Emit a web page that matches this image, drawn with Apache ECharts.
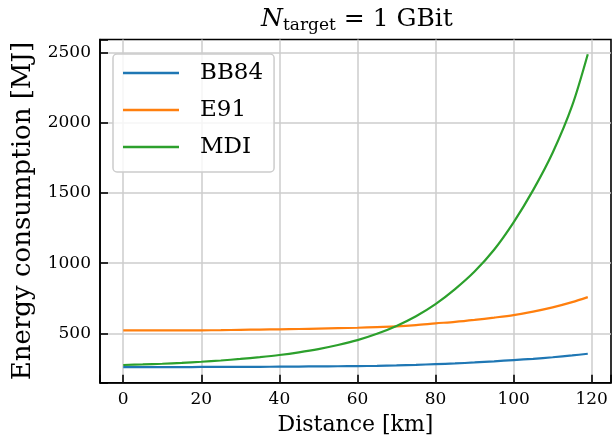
<!DOCTYPE html>
<html lang="en">
<head>
    <meta charset="utf-8"/>
    <title>Energy consumption vs distance</title>
    <script src="https://cdn.jsdelivr.net/npm/echarts@6/dist/echarts.min.js"></script>
</head>
<body style="margin: 0;">
<div id="chart" style="width: 614px;height:445px;"></div>

<script type="text/javascript">
    // distance in km (MJ)
    const distance = [0, 5, 10, 15, 20, 25, 30, 35, 40, 45, 50, 55, 60,
        65, 70, 75, 80, 85, 90, 95, 100, 105, 110, 115, 119];
    const bb84 = [260, 260, 260, 260, 261, 261, 262, 262, 263, 264, 265, 266, 267,
        269, 272, 276, 281, 286, 293, 301, 310, 319, 330, 343, 355];
    const e91 = [521, 521, 521, 522, 522, 523, 525, 527, 529, 531, 534, 537, 540,
        545, 550, 559, 571, 582, 596, 612, 630, 655, 685, 722, 758];
    const mdi = [275, 279, 284, 290, 298, 307, 318, 331, 346, 365, 388, 417, 452,
        497, 553, 622, 708, 815, 940, 1095, 1290, 1519, 1785, 2120, 2486];
    const xTicks = [0, 20, 40, 60, 80, 100, 120];
    const yTicks = [500, 1000, 1500, 2000, 2500];

    const serif = 'DejaVu Serif';

    function pairs(ys) {
        return distance.map(function (d, i) {
            return [d, ys[i]];
        });
    }

    function makeLine(name, color, ys) {
        return {
            name: name,
            type: 'line',
            data: pairs(ys),
            symbol: 'none',
            smooth: 0.3,
            color: color,
            lineStyle: {width: 2.2, color: color}
        };
    }

    let chart = echarts.init(document.getElementById('chart'));
    chart.setOption({
        animation: false,
        backgroundColor: '#fff',
        title: {
            text: '{n|N}{s|target}{r| = 1 GBit}',
            left: 357,
            top: 4,
            padding: 0,
            textAlign: 'center',
            textStyle: {
                fontWeight: 'normal',
                rich: {
                    n: {fontFamily: serif, fontStyle: 'italic', fontWeight: 'normal', fontSize: 25, lineHeight: 30, color: '#000'},
                    s: {fontFamily: serif, fontWeight: 'normal', fontSize: 17, lineHeight: 17, verticalAlign: 'bottom', color: '#000'},
                    r: {fontFamily: serif, fontWeight: 'normal', fontSize: 25, lineHeight: 30, color: '#000'}
                }
            }
        },
        grid: {
            left: 100,
            top: 39.5,
            right: -1,
            bottom: 62.3,
            show: true,
            borderColor: '#000',
            borderWidth: 1.6,
            containLabel: false
        },
        legend: {
            orient: 'vertical',
            left: 113,
            top: 54,
            padding: [6, 11, 12, 10],
            icon: 'rect',
            itemWidth: 56,
            itemHeight: 2.5,
            itemGap: 11,
            backgroundColor: 'rgba(255,255,255,0.8)',
            borderColor: '#cccccc',
            borderWidth: 1.5,
            borderRadius: 4,
            textStyle: {
                fontFamily: serif,
                fontSize: 23,
                lineHeight: 26,
                color: '#000',
                padding: [0, 0, 0, 16]
            },
            data: ['BB84', 'E91', 'MDI']
        },
        xAxis: {
            type: 'value',
            min: -5.95,
            max: 124.95,
            splitNumber: 7,
            name: 'Distance [km]',
            nameLocation: 'middle',
            nameGap: 32,
            nameTextStyle: {fontFamily: serif, fontSize: 22, color: '#000'},
            axisLine: {show: true, onZero: false, lineStyle: {color: '#000', width: 1.6}},
            axisTick: {show: true, inside: true, length: 8, lineStyle: {color: '#000', width: 1.6}},
            axisLabel: {
                margin: 8,
                fontFamily: serif,
                fontSize: 17,
                color: '#000',
                formatter: function (v) {
                    return xTicks.indexOf(v) >= 0 ? String(v) : '';
                }
            },
            splitLine: {show: true, showMinLine: false, showMaxLine: false, lineStyle: {color: '#cccccc', width: 1.5}}
        },
        yAxis: {
            type: 'value',
            min: 149,
            max: 2591,
            splitNumber: 5,
            name: 'Energy consumption [MJ]',
            nameLocation: 'middle',
            nameGap: 64,
            nameTextStyle: {fontFamily: serif, fontSize: 26, color: '#000'},
            axisLine: {show: true, onZero: false, lineStyle: {color: '#000', width: 1.6}},
            axisTick: {show: true, inside: true, length: 8, lineStyle: {color: '#000', width: 1.6}},
            axisLabel: {
                margin: 9,
                fontFamily: serif,
                fontSize: 17,
                color: '#000',
                formatter: function (v) {
                    return yTicks.indexOf(v) >= 0 ? String(v) : '';
                }
            },
            splitLine: {show: true, showMinLine: false, showMaxLine: false, lineStyle: {color: '#cccccc', width: 1.5}}
        },
        series: [
            makeLine('BB84', '#1f77b4', bb84),
            makeLine('E91', '#ff7f0e', e91),
            makeLine('MDI', '#2ca02c', mdi)
        ]
    });
</script>
</body>
</html>
